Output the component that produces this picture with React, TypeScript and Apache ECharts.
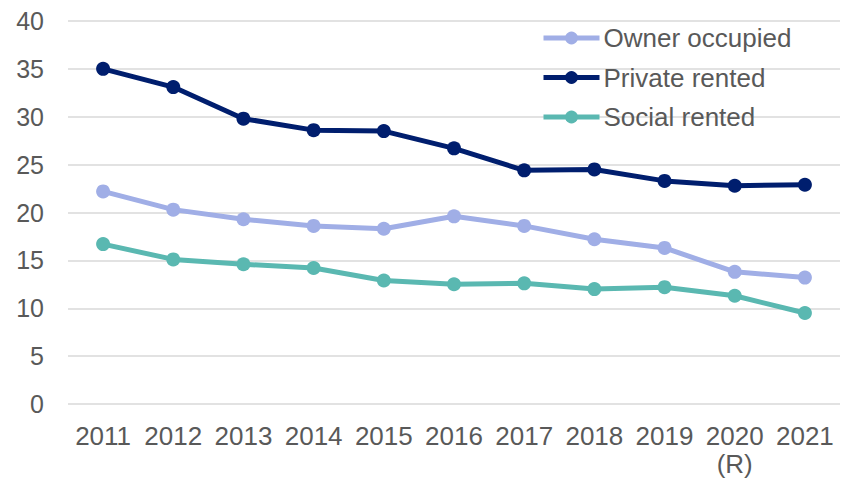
import React, { useEffect, useRef } from "react";
import * as echarts from "echarts";

const years = ["2011", "2012", "2013", "2014", "2015", "2016", "2017", "2018", "2019", "2020\n(R)", "2021"];
const ownerOccupied = [22.2, 20.3, 19.3, 18.6, 18.3, 19.6, 18.6, 17.2, 16.3, 13.8, 13.2];
const privateRented = [35.0, 33.1, 29.8, 28.6, 28.5, 26.7, 24.4, 24.5, 23.3, 22.8, 22.9];
const socialRented = [16.7, 15.1, 14.6, 14.2, 12.9, 12.5, 12.6, 12.0, 12.2, 11.3, 9.5];

const seriesNames = ["Owner occupied", "Private rented", "Social rented"];
const seriesColors = ["#A0AEE6", "#001E6E", "#5AB8B1"];

const FONT = "'Liberation Sans', Arial, sans-serif";
const TEXT_COLOR = "#595959";

export default function App() {
  const ref = useRef<HTMLDivElement>(null);

  useEffect(() => {
    if (!ref.current) return;
    const chart = echarts.init(ref.current, undefined, { renderer: "svg" });
    const data = [ownerOccupied, privateRented, socialRented];
    chart.setOption({
      animation: false,
      backgroundColor: "#ffffff",
      textStyle: { fontFamily: FONT },
      grid: { left: 68, right: 13, top: 21, bottom: 80, containLabel: false },
      legend: {
        orient: "vertical",
        left: 536,
        top: 20,
        itemWidth: 56,
        itemHeight: 16,
        itemGap: 13.5,
        lineStyle: { width: 5 },
        textStyle: { fontSize: 26, color: TEXT_COLOR, fontFamily: FONT, padding: [0, 0, 0, -1] },
        data: seriesNames,
      },
      xAxis: {
        type: "category",
        data: years,
        boundaryGap: true,
        axisLine: { show: false },
        axisTick: { show: false },
        axisLabel: {
          fontSize: 26,
          color: TEXT_COLOR,
          fontFamily: FONT,
          margin: 18,
          lineHeight: 28,
          interval: 0,
        },
      },
      yAxis: {
        type: "value",
        min: 0,
        max: 40,
        interval: 5,
        axisLine: { show: false },
        axisTick: { show: false },
        splitLine: { lineStyle: { color: "#D9D9D9", width: 1.5 } },
        axisLabel: { fontSize: 25, color: TEXT_COLOR, fontFamily: FONT, margin: 24 },
      },
      series: seriesNames.map((name, i) => ({
        name,
        type: "line",
        data: data[i],
        symbol: "circle",
        symbolSize: 14,
        showSymbol: true,
        color: seriesColors[i],
        lineStyle: { width: 5, color: seriesColors[i] },
        itemStyle: { color: seriesColors[i] },
        z: i === 1 ? 3 : 2,
      })),
    });
    return () => chart.dispose();
  }, []);

  return (
    <div
      ref={ref}
      style={{ position: "absolute", left: 0, top: 0, width: 853, height: 484 }}
    />
  );
}
